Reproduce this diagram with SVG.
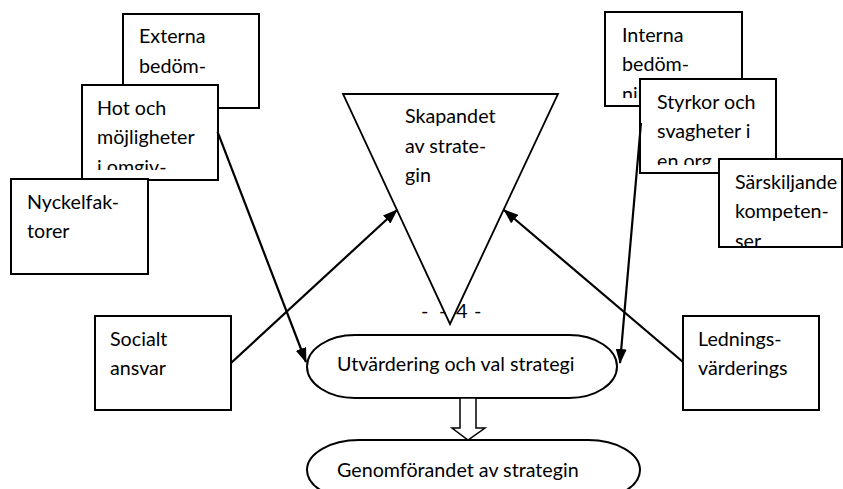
<svg xmlns="http://www.w3.org/2000/svg" width="843" height="489" viewBox="0 0 843 489">
<style>
.box{fill:#fff;stroke:#000;stroke-width:2}
.t{font-family:Lato,"Open Sans","Liberation Sans",sans-serif;font-size:19.7px;fill:#000}
.ln{fill:none;stroke:#000;stroke-width:2.2}
</style>
<defs>
<marker id="ah" markerUnits="userSpaceOnUse" markerWidth="15" markerHeight="11" refX="14" refY="5.5" orient="auto">
<path d="M0,0 L15,5.5 L0,11 z" fill="#000"/>
</marker>
<clipPath id="cHot"><rect x="82" y="85" width="136" height="85"/></clipPath>
<clipPath id="cInt"><rect x="605" y="12" width="137" height="86"/></clipPath>
<clipPath id="cSty"><rect x="640" y="79" width="136" height="86"/></clipPath>
<clipPath id="cSar"><rect x="719" y="159" width="124" height="87"/></clipPath>
</defs>
<rect width="843" height="489" fill="#fff"/>

<g id="externa">
<rect class="box" x="123" y="14" width="136" height="94"/>
<text class="t" x="139" y="43.3">Externa</text>
<text class="t" x="139" y="72.7">bedöm-</text>
</g>
<g id="hot">
<rect class="box" x="82" y="85" width="136" height="95"/>
<g clip-path="url(#cHot)">
<text class="t" x="97" y="115">Hot och</text>
<text class="t" x="97" y="144">möjligheter</text>
<text class="t" x="97" y="174">i omgiv-</text>
</g>
</g>
<g id="nyckel">
<rect class="box" x="11" y="179" width="137" height="95"/>
<text class="t" x="27" y="209">Nyckelfak-</text>
<text class="t" x="27" y="238">torer</text>
</g>

<g id="interna">
<rect class="box" x="605" y="12" width="137" height="94"/>
<g clip-path="url(#cInt)">
<text class="t" x="622" y="41.5">Interna</text>
<text class="t" x="622" y="71">bedöm-</text>
<text class="t" x="622" y="100.5">ning</text>
</g>
</g>
<g id="styrkor">
<rect class="box" x="640" y="79" width="136" height="94"/>
<g clip-path="url(#cSty)">
<text class="t" x="657" y="108.5">Styrkor och</text>
<text class="t" x="657" y="138">svagheter i</text>
<text class="t" x="657" y="167.5">en org</text>
</g>
</g>
<g id="sarskiljande">
<rect class="box" x="719" y="159" width="123" height="88"/>
<g clip-path="url(#cSar)">
<text class="t" x="735" y="188.5">Särskiljande</text>
<text class="t" x="735" y="218">kompeten-</text>
<text class="t" x="735" y="247.5">ser</text>
</g>
</g>

<g id="skapandet">
<polygon points="343,94 558,94 450,324" fill="#fff" stroke="#000" stroke-width="1.8"/>
<text class="t" x="405" y="123.3">Skapandet</text>
<text class="t" x="405" y="152.6">av strate-</text>
<text class="t" x="405" y="181.9">gin</text>
</g>

<g id="socialt">
<rect class="box" x="95" y="316" width="136" height="94"/>
<text class="t" x="110" y="345.5">Socialt</text>
<text class="t" x="110" y="375">ansvar</text>
</g>
<g id="ledning">
<rect class="box" x="683" y="316" width="136" height="94"/>
<text class="t" x="698" y="345.5">Lednings-</text>
<text class="t" x="698" y="375">värderings</text>
</g>

<g id="utvardering">
<rect class="box" x="307" y="335" width="310" height="63" rx="48" ry="31.5"/>
<text class="t" x="337" y="370.7">Utvärdering och val strategi</text>
</g>
<g id="genomforandet">
<rect class="box" x="307" y="440" width="333" height="60" rx="52" ry="30"/>
<text class="t" x="337" y="476.7">Genomförandet av strategin</text>
</g>

<g id="connectors">
<line class="ln" x1="217.5" y1="131.7" x2="306" y2="362" marker-end="url(#ah)"/>
<line class="ln" x1="231" y1="363" x2="397" y2="210" marker-end="url(#ah)"/>
<line class="ln" x1="683" y1="362" x2="504" y2="210" marker-end="url(#ah)"/>
<line class="ln" x1="641" y1="123" x2="620" y2="363" marker-end="url(#ah)"/>
<polygon points="460,398 476,398 476,428 485,428 468,440 452,428 460,428" fill="#fff" stroke="#000" stroke-width="1.5"/>
</g>

<text class="t" style="font-size:20px" x="421 428 439 446 456 466 474" y="318">- - 4 -</text>
</svg>
